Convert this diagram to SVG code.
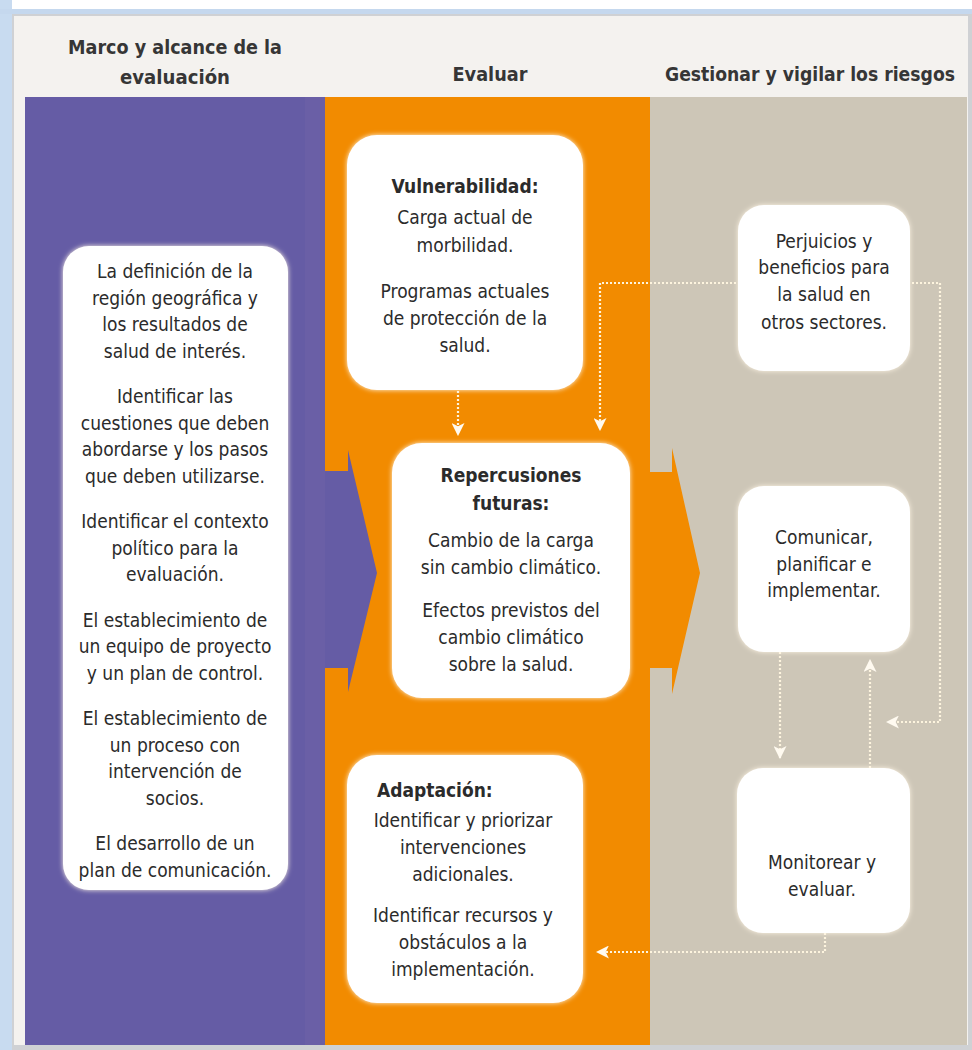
<svg xmlns="http://www.w3.org/2000/svg" width="972" height="1050" viewBox="0 0 972 1050">
<style>
.hd{font-family:"Liberation Sans Narrow","DejaVu Sans Condensed","Liberation Sans",sans-serif;font-weight:bold;font-size:20px;fill:#363636;text-anchor:middle}
.tx{font-family:"Liberation Sans Narrow","DejaVu Sans Condensed","Liberation Sans",sans-serif;font-size:19px;fill:#2b2b2b;text-anchor:middle;dominant-baseline:central}
.tb{font-weight:bold}
.box{fill:#ffffff;filter:url(#glow)}
.dot{fill:none;stroke:#fdf4de;stroke-width:2.2;stroke-dasharray:2 2}
</style>
<defs>
<filter id="glow" x="-10%" y="-10%" width="120%" height="120%">
<feGaussianBlur in="SourceAlpha" stdDeviation="2.5" result="b"/>
<feFlood flood-color="#fff6e6"/>
<feComposite in2="b" operator="in" result="g"/>
<feMerge><feMergeNode in="g"/><feMergeNode in="SourceGraphic"/></feMerge>
</filter>
<marker id="ah" viewBox="0 0 12 12" refX="11" refY="6" markerWidth="13" markerHeight="13" markerUnits="userSpaceOnUse" orient="auto">
<path d="M0,0 L12,6 L0,12 L3,6 z" fill="#fffaf0"/>
</marker>
</defs>
<rect x="0" y="0" width="972" height="1050" fill="#ffffff"/>
<rect x="0" y="0" width="12" height="1050" fill="#c8dbf0"/>
<rect x="0" y="9" width="972" height="5" fill="#c5d8ee"/>
<rect x="12" y="14" width="960" height="1036" fill="#cfd1d4"/>
<rect x="14" y="16" width="954" height="1029" fill="#f4f2ef"/>
<g id="columns">
<rect x="25" y="97" width="300" height="948" fill="#655ca5"/>
<rect x="305" y="97" width="20" height="948" fill="#6a5fa6"/>
<rect x="325" y="97" width="325" height="948" fill="#f28b00"/>
<rect x="650" y="97" width="317" height="948" fill="#cdc6b7"/>
</g>
<g id="headers">
<text class="hd" x="175" y="54" textLength="214" lengthAdjust="spacingAndGlyphs">Marco y alcance de la</text>
<text class="hd" x="175" y="84" textLength="110" lengthAdjust="spacingAndGlyphs">evaluación</text>
<text class="hd" x="490" y="81" textLength="75" lengthAdjust="spacingAndGlyphs">Evaluar</text>
<text class="hd" x="810" y="81" style="font-size:19px" textLength="290" lengthAdjust="spacingAndGlyphs">Gestionar y vigilar los riesgos</text>
</g>
<g id="big-arrows">
<polygon points="325,471 348,471 348,450 377,573 348,692 348,668 325,668" fill="#655ca5"/>
<polygon points="650,472 672,472 672,448 700,573 672,694 672,668 650,668" fill="#f28b00"/>
</g>
<g id="connectors">
<path class="dot" d="M458,391 V435" marker-end="url(#ah)"/>
<path class="dot" d="M740,283 H600 V430" marker-end="url(#ah)"/>
<path class="dot" d="M908,283 H940 V722 H887" marker-end="url(#ah)"/>
<path class="dot" d="M780,652 V758" marker-end="url(#ah)"/>
<path class="dot" d="M870,768 V660" marker-end="url(#ah)"/>
<path class="dot" d="M825,933 V952 H597" marker-end="url(#ah)"/>
</g>
<g id="node-marco">
<rect class="box" x="63" y="246" width="225" height="644" rx="26"/>
<text class="tx" x="175" y="271">La definición de la</text>
<text class="tx" x="175" y="297.5">región geográfica y</text>
<text class="tx" x="175" y="324">los resultados de</text>
<text class="tx" x="175" y="350.5">salud de interés.</text>
<text class="tx" x="175" y="396">Identificar las</text>
<text class="tx" x="175" y="422.5">cuestiones que deben</text>
<text class="tx" x="175" y="449">abordarse y los pasos</text>
<text class="tx" x="175" y="475.5">que deben utilizarse.</text>
<text class="tx" x="175" y="521">Identificar el contexto</text>
<text class="tx" x="175" y="547.5">político para la</text>
<text class="tx" x="175" y="574">evaluación.</text>
<text class="tx" x="175" y="619.5">El establecimiento de</text>
<text class="tx" x="175" y="646">un equipo de proyecto</text>
<text class="tx" x="175" y="672.5">y un plan de control.</text>
<text class="tx" x="175" y="718">El establecimiento de</text>
<text class="tx" x="175" y="744.5">un proceso con</text>
<text class="tx" x="175" y="771">intervención de</text>
<text class="tx" x="175" y="797.5">socios.</text>
<text class="tx" x="175" y="843">El desarrollo de un</text>
<text class="tx" x="175" y="869.5">plan de comunicación.</text>
</g>
<g id="node-vulnerabilidad">
<rect class="box" x="347" y="135" width="236" height="255" rx="30"/>
<text class="tx tb" x="465" y="186">Vulnerabilidad:</text>
<text class="tx" x="465" y="217">Carga actual de</text>
<text class="tx" x="465" y="245">morbilidad.</text>
<text class="tx" x="465" y="291">Programas actuales</text>
<text class="tx" x="465" y="318">de protección de la</text>
<text class="tx" x="465" y="345">salud.</text>
</g>
<g id="node-repercusiones">
<rect class="box" x="392" y="443" width="238" height="255" rx="30"/>
<text class="tx tb" x="511" y="475">Repercusiones</text>
<text class="tx tb" x="511" y="503">futuras:</text>
<text class="tx" x="511" y="540">Cambio de la carga</text>
<text class="tx" x="511" y="567">sin cambio climático.</text>
<text class="tx" x="511" y="610">Efectos previstos del</text>
<text class="tx" x="511" y="637">cambio climático</text>
<text class="tx" x="511" y="664">sobre la salud.</text>
</g>
<g id="node-adaptacion">
<rect class="box" x="347" y="755" width="236" height="248" rx="30"/>
<text class="tx tb" x="377" y="790" style="text-anchor:start">Adaptación:</text>
<text class="tx" x="463" y="820">Identificar y priorizar</text>
<text class="tx" x="463" y="847">intervenciones</text>
<text class="tx" x="463" y="874">adicionales.</text>
<text class="tx" x="463" y="915">Identificar recursos y</text>
<text class="tx" x="463" y="942">obstáculos a la</text>
<text class="tx" x="463" y="969">implementación.</text>
</g>
<g id="node-perjuicios">
<rect class="box" x="738" y="205" width="172" height="166" rx="26"/>
<text class="tx" x="824" y="241">Perjuicios y</text>
<text class="tx" x="824" y="267">beneficios para</text>
<text class="tx" x="824" y="294">la salud en</text>
<text class="tx" x="824" y="322">otros sectores.</text>
</g>
<g id="node-comunicar">
<rect class="box" x="738" y="486" width="172" height="166" rx="26"/>
<text class="tx" x="824" y="537">Comunicar,</text>
<text class="tx" x="824" y="564">planificar e</text>
<text class="tx" x="824" y="590">implementar.</text>
</g>
<g id="node-monitorear">
<rect class="box" x="737" y="768" width="173" height="165" rx="26"/>
<text class="tx" x="822" y="862">Monitorear y</text>
<text class="tx" x="822" y="889">evaluar.</text>
</g>
</svg>
